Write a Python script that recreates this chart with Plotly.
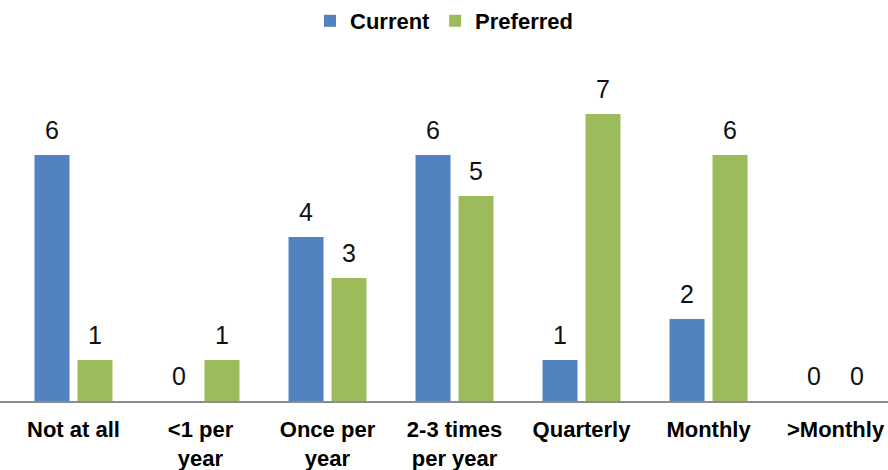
import plotly.graph_objects as go

categories = ["Not at all", "<1 per<br>year", "Once per<br>year", "2-3 times<br>per year",
              "Quarterly", "Monthly", ">Monthly"]
current = [6, 0, 4, 6, 1, 2, 0]
preferred = [1, 1, 3, 5, 7, 6, 0]

BLUE = "#5282C0"
GREEN = "#9CBC5C"
FONT = "Liberation Sans, Arial, sans-serif"

fig = go.Figure()
fig.add_trace(go.Bar(name="Current", x=categories, y=current, marker=dict(color=BLUE, line=dict(width=0))))
fig.add_trace(go.Bar(name="Preferred", x=categories, y=preferred, marker=dict(color=GREEN, line=dict(width=0))))

annotations = []
for vals, shift in ((current, -21.5), (preferred, 21.5)):
    for c, v in zip(categories, vals):
        annotations.append(dict(x=c, y=v, xref="x", yref="y", text=str(v), showarrow=False,
                                xshift=shift, yshift=25, font=dict(family=FONT, size=25, color="#111")))

fig.update_layout(
    width=888, height=470,
    margin=dict(l=0, r=0, t=73, b=69),
    paper_bgcolor="white", plot_bgcolor="white",
    barmode="group", bargap=0.323, bargroupgap=0.186,
    font=dict(family=FONT, color="#000"),
    legend=dict(orientation="h", x=0.5, xanchor="center", y=1 - 21 / 470, yanchor="middle",
                yref="container", font=dict(family=FONT, size=22, weight="bold"),
                itemwidth=30, traceorder="normal"),
    xaxis=dict(range=[-0.5787, 6.413], showline=True, linecolor="#8C8C8C", linewidth=2,
               ticks="", ticklabelstandoff=8,
               tickfont=dict(family=FONT, size=22, weight="bold", color="#000"),
               showgrid=False, zeroline=False),
    yaxis=dict(range=[0, 8], visible=False, showgrid=False, zeroline=False),
    annotations=annotations,
    showlegend=True,
)

fig.write_html("out.html")
